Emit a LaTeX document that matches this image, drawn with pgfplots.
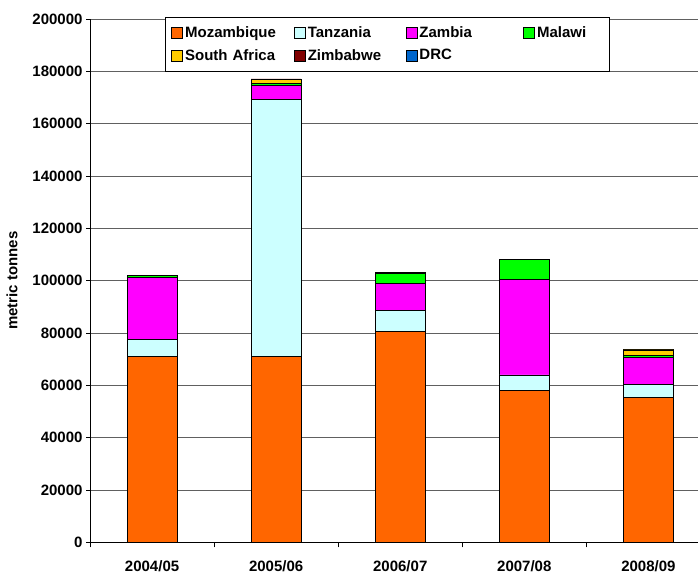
\documentclass[border=0pt]{standalone}
\usepackage{pgfplots}
\pgfplotsset{compat=1.18}
\usepackage{fontspec}
\setmainfont{Liberation Sans}
\definecolor{moz}{HTML}{FF6600}
\definecolor{tan}{HTML}{CCFFFF}
\definecolor{zam}{HTML}{FF00FF}
\definecolor{mal}{HTML}{00FF00}
\definecolor{saf}{HTML}{FFCC00}
\definecolor{zim}{HTML}{800000}
\definecolor{drc}{HTML}{0066CC}
\definecolor{gridc}{HTML}{606060}
\begin{document}
\begin{tikzpicture}
\begin{axis}[
  scale only axis, width=607.6pt, height=523pt,
  ybar stacked, bar width=50pt,
  xmin=-0.5, xmax=4.4, ymin=0, ymax=200000,
  xtick={0,1,2,3,4},
  xticklabels={2004/05,2005/06,2006/07,2007/08,2008/09},
  major x tick style={draw=none},
  minor xtick={-0.5,0.5,1.5,2.5,3.5},
  minor x tick style={black, line width=0.8pt},
  minor tick length=5pt,
  ytick={0,20000,...,200000},
  major tick length=4pt,
  tick align=outside,
  y tick style={black, line width=0.8pt},
  ymajorgrids, grid style={gridc, line width=0.8pt},
  axis x line*=bottom, axis y line*=left,
  axis line style={black, line width=0.8pt},
  scaled y ticks=false,
  yticklabel={\pgfmathprintnumber[fixed,precision=0,set thousands separator={},assume math mode=true]{\tick}},
  tick label style={font=\fontsize{15}{17}\selectfont\bfseries},
  xticklabel style={yshift=-11pt},
  ylabel={metric tonnes},
  ylabel style={font=\fontsize{15}{17}\selectfont\bfseries, yshift=8pt},
  every axis plot/.append style={draw=black, line width=0.6pt},
  legend columns=4,
  legend cell align=left,
  legend style={at={(rel axis cs:0.1234,1.004)}, anchor=north west,
    draw=black, line width=0.8pt, fill=white,
    font=\fontsize{15}{17}\selectfont\bfseries,
    inner xsep=6pt, inner ysep=7.5pt, row sep=6pt,
    /tikz/column 2/.style={text width=107pt},
    /tikz/column 4/.style={text width=96pt},
    /tikz/column 6/.style={text width=102pt},
    /tikz/column 8/.style={text width=64pt}},
  legend image code/.code={\draw[#1, line width=0.6pt] (0pt,-5.5pt) rectangle (11pt,5.5pt);},
]
\addplot[fill=moz] coordinates {(0,71000) (1,71000) (2,80700) (3,58100) (4,55400)};
\addplot[fill=tan] coordinates {(0,6600) (1,98300) (2,8000) (3,5900) (4,5100)};
\addplot[fill=zam] coordinates {(0,23500) (1,5300) (2,10200) (3,36500) (4,10100)};
\addplot[fill=mal] coordinates {(0,800) (1,700) (2,3800) (3,7600) (4,700)};
\addplot[fill=saf] coordinates {(0,0) (1,1600) (2,0) (3,0) (4,2200)};
\addplot[fill=zim] coordinates {(0,200) (1,200) (2,400) (3,100) (4,300)};
\addplot[fill=drc] coordinates {(0,0) (1,0) (2,0) (3,0) (4,0)};
\legend{Mozambique,Tanzania,Zambia,Malawi,South Africa,Zimbabwe,DRC}
\end{axis}
\pgfresetboundingbox
\path (current axis.south west) ++(-90pt,-35pt) rectangle ([yshift=19pt]current axis.north east);
\end{tikzpicture}
\end{document}
